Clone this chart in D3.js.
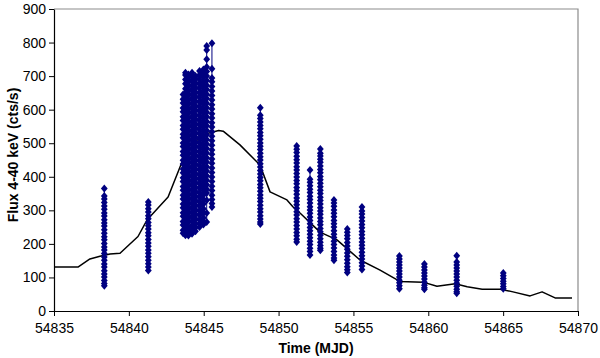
<!DOCTYPE html>
<html><head><meta charset="utf-8">
<script src="https://cdn.jsdelivr.net/npm/d3@7"></script>
<style>
html,body{margin:0;padding:0;background:#fff;}
svg{display:block;font-family:"Liberation Sans",Arial,sans-serif;}
</style></head>
<body>
<svg id="chart" width="600" height="358"></svg>
<script>
// Observation times (MJD) and flux samples (cts/s)
const obsTimes = [54838.36, 54841.30,
  54843.62, 54843.78, 54843.98, 54844.22, 54844.45, 54844.72, 54844.98, 54845.20, 54845.55,
  54848.78, 54851.21, 54852.10, 54852.79, 54853.70, 54854.59, 54855.57,
  54858.07, 54859.74, 54861.90, 54865.01];
const flux01 = [365, 343, 334, 323, 313, 303, 292, 283, 272, 262, 253, 242, 232, 221, 212, 201, 191, 182, 171, 161, 151, 140, 131, 120, 110, 101, 91, 82, 75];
const flux02 = [325, 316, 305, 295, 284, 275, 264, 254, 244, 233, 224, 213, 203, 193, 182, 172, 162, 151, 141, 131, 121];
const flux03 = [645, 631, 620, 605, 594, 579, 568, 553, 542, 527, 516, 501, 490, 475, 464, 449, 438, 423, 412, 397, 386, 371, 360, 345, 334, 319, 308, 293, 282, 267, 256, 241, 232];
const flux04 = [710, 703, 690, 677, 662, 650, 636, 623, 609, 596, 582, 569, 555, 542, 528, 515, 501, 488, 474, 461, 447, 434, 420, 407, 393, 380, 366, 353, 339, 326, 312, 299, 285, 272, 258, 245, 233, 226];
const flux05 = [705, 696, 683, 670, 656, 643, 629, 616, 602, 589, 575, 562, 548, 535, 521, 508, 494, 481, 467, 454, 440, 427, 413, 400, 386, 373, 359, 346, 332, 319, 305, 292, 278, 265, 251, 238, 225];
const flux06 = [710, 700, 687, 673, 660, 646, 633, 619, 606, 592, 579, 565, 552, 538, 525, 511, 498, 484, 471, 457, 444, 430, 417, 403, 390, 376, 363, 349, 336, 322, 309, 295, 282, 268, 255, 242, 230];
const flux07 = [700, 693, 680, 666, 653, 639, 626, 612, 599, 585, 572, 558, 545, 531, 518, 504, 491, 477, 464, 450, 437, 423, 410, 396, 383, 369, 356, 342, 329, 315, 302, 288, 275, 261, 249, 238];
const flux08 = [715, 703, 690, 676, 663, 649, 636, 622, 609, 595, 582, 568, 555, 541, 528, 514, 501, 487, 474, 460, 447, 433, 420, 406, 393, 379, 366, 352, 339, 325, 312, 298, 285, 271, 260, 250];
const flux09 = [720, 710, 697, 683, 670, 656, 643, 629, 616, 602, 589, 575, 562, 548, 535, 521, 508, 494, 481, 467, 454, 440, 427, 413, 400, 386, 373, 359, 346, 332, 319, 305, 292, 278, 266, 258];
const flux10 = [790, 778, 750, 727, 714, 700, 687, 673, 660, 646, 633, 619, 606, 592, 579, 565, 552, 538, 525, 511, 498, 484, 471, 457, 444, 430, 417, 403, 390, 376, 363, 352, 330, 292, 265];
const flux11 = [798, 722, 694, 683, 669, 656, 642, 629, 615, 602, 588, 575, 561, 548, 534, 521, 507, 494, 480, 467, 453, 440, 426, 413, 399, 386, 372, 359, 345, 332, 320, 310];
const flux12 = [606, 583, 574, 563, 553, 543, 532, 522, 512, 501, 491, 481, 470, 460, 450, 439, 429, 419, 408, 398, 388, 377, 367, 357, 346, 336, 326, 315, 305, 295, 284, 274, 265, 259];
const flux13 = [492, 482, 472, 461, 451, 441, 430, 420, 410, 399, 389, 379, 368, 358, 348, 337, 327, 317, 306, 296, 286, 275, 265, 255, 244, 234, 224, 214, 206];
const flux14 = [420, 393, 384, 373, 363, 353, 342, 332, 322, 311, 301, 291, 280, 270, 260, 249, 239, 229, 218, 208, 198, 187, 177, 167];
const flux15 = [483, 470, 462, 452, 443, 432, 422, 412, 401, 391, 381, 370, 360, 350, 339, 329, 319, 308, 298, 288, 277, 267, 257, 246, 236, 226, 215, 205, 195, 187, 181];
const flux16 = [331, 322, 312, 301, 291, 281, 270, 260, 250, 239, 229, 219, 208, 198, 188, 177, 167, 158, 151];
const flux17 = [244, 235, 225, 215, 204, 194, 184, 173, 163, 153, 142, 132, 123, 115];
const flux18 = [310, 298, 289, 279, 268, 258, 248, 237, 227, 217, 206, 196, 186, 175, 165, 155, 144, 134, 124];
const flux19 = [164, 155, 146, 137, 128, 119, 110, 101, 92, 84, 75, 66];
const flux20 = [140, 131, 122, 113, 104, 95, 86, 77, 69, 65];
const flux21 = [165, 146, 137, 128, 119, 110, 101, 92, 83, 74, 65, 57, 53];
const flux22 = [113, 105, 97, 89, 81, 73, 66];
const obsFlux = [flux01, flux02, flux03, flux04, flux05, flux06, flux07, flux08, flux09, flux10, flux11,
  flux12, flux13, flux14, flux15, flux16, flux17, flux18, flux19, flux20, flux21, flux22];

// Model curve
const modelTimes = [54835.0, 54836.6, 54837.4, 54838.07, 54838.74, 54839.41, 54840.61, 54841.21, 54842.62,
  54843.55, 54844.4, 54845.3, 54846.0, 54846.3, 54847.42, 54848.76, 54849.43, 54850.56, 54850.97, 54851.43,
  54852.77, 54853.9, 54855.44, 54856.78, 54858.1, 54859.65, 54860.58, 54861.8, 54862.6, 54863.6, 54864.8,
  54865.66, 54866.8, 54867.6, 54868.47, 54869.6];
const modelFlux = [131, 131, 155, 163, 170, 172, 222, 271, 340,
  444, 505, 530, 538, 536, 495, 435, 355, 331, 310, 292,
  235, 212, 152, 122, 88, 86, 74, 81, 72, 65, 65,
  57, 45, 57, 39, 39];

const xTicks = [54835, 54840, 54845, 54850, 54855, 54860, 54865, 54870];
const yTicks = [0, 100, 200, 300, 400, 500, 600, 700, 800, 900];

const svg = d3.select("#chart");
const L = 54, R = 578, T = 9, B = 311;
const x = d3.scaleLinear().domain([54835, 54870]).range([L, R]);
const y = d3.scaleLinear().domain([0, 900]).range([B, T]);

// frame top/right (gray)
svg.append("path").attr("d", `M${L},${T}H${R}V${B}`).attr("fill", "none")
  .attr("stroke", "#8c8c8c").attr("stroke-width", 1.2);

const ln = d3.line().x(d => x(d[0])).y(d => y(d[1]));

// model line (drawn beneath the data)
const model = modelTimes.map((t, i) => [t, modelFlux[i]]);
svg.append("path").attr("d", ln(model)).attr("fill", "none").attr("stroke", "#000").attr("stroke-width", 1.5)
  .attr("stroke-linejoin", "round");

// data clusters
const navy = "#000080";
const diamond = "M0,-4L3.4,0L0,4L-3.4,0Z";
const gData = svg.append("g");
obsTimes.forEach((t, i) => {
  const pts = obsFlux[i].map(v => [t, v]);
  gData.append("path").attr("d", ln(pts)).attr("fill", "none").attr("stroke", navy).attr("stroke-width", 1);
  gData.selectAll(null).data(pts).enter().append("path")
    .attr("d", diamond)
    .attr("transform", d => `translate(${x(d[0])},${y(d[1])})`)
    .attr("fill", navy);
});

// axes
const xAxis = d3.axisBottom(x).tickValues(xTicks).tickFormat(d3.format("d")).tickSize(5).tickSizeOuter(0);
const yAxis = d3.axisLeft(y).tickValues(yTicks).tickSize(5).tickSizeOuter(0);
const gx = svg.append("g").attr("transform", `translate(0,${B})`).call(xAxis);
const gy = svg.append("g").attr("transform", `translate(${L},0)`).call(yAxis);
[gx, gy].forEach(g => {
  g.select(".domain").attr("stroke", "#000").attr("stroke-width", 1.2);
  g.selectAll(".tick line").attr("stroke", "#000");
  g.selectAll("text").attr("fill", "#000").style("font-size", "14px").style("font-family", "'Liberation Sans', Arial, sans-serif");
});
gx.selectAll("text").attr("y", 12);
gy.selectAll("text").attr("x", -8);

// titles
svg.append("text").attr("x", 316).attr("y", 353).attr("text-anchor", "middle")
  .style("font-size", "14px").style("font-weight", "bold").text("Time (MJD)");
svg.append("text").attr("transform", `translate(18,155) rotate(-90)`).attr("text-anchor", "middle")
  .style("font-size", "14px").style("font-weight", "bold").text("Flux 4-40 keV (cts/s)");
</script>
</body></html>
